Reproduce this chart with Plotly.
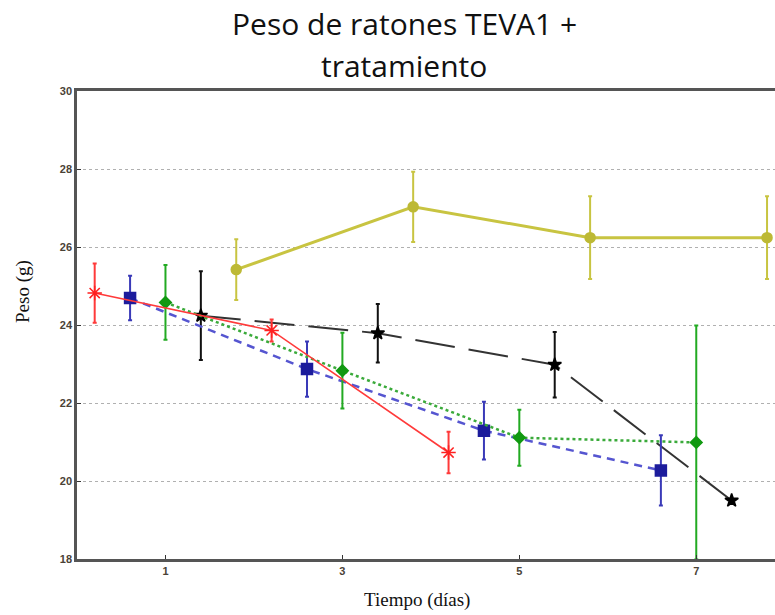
import plotly.graph_objects as go

# ---- data ----
x_red = [0.2, 2.2, 4.2]
y_red = [24.82, 23.86, 20.73]
e_red = [0.76, 0.28, 0.53]

x_blue = [0.6, 2.6, 4.6, 6.6]
y_blue = [24.69, 22.87, 21.29, 20.27]
e_blue = [0.57, 0.71, 0.74, 0.90]

x_green = [1.0, 3.0, 5.0, 7.0]
y_green = [24.58, 22.83, 21.11, 20.99]
e_green = [0.96, 0.97, 0.72, 3.0]

x_black = [1.4, 3.4, 5.4, 7.4]
y_black = [24.24, 23.79, 22.98, 19.50]
e_black = [1.14, 0.75, 0.84, 0.0]

x_yellow = [1.8, 3.8, 5.8, 7.8]
y_yellow = [25.42, 27.03, 26.24, 26.24]
e_yellow = [0.78, 0.90, 1.06, 1.06]

x_ticks = [1, 3, 5, 7]
y_ticks = [18, 20, 22, 24, 26, 28, 30]

title_lines = ["Peso de ratones TEVA1 +", "tratamiento"]
x_title = "Tiempo (días)"
y_title = "Peso (g)"

fig = go.Figure()


def add(x, y, e, color, ecolor, dash, width, symbol, size, mcolor):
    fig.add_trace(go.Scatter(
        x=x, y=y, mode="lines+markers",
        line=dict(color=color, dash=dash, width=width),
        marker=dict(symbol=symbol, size=size, color=mcolor,
                    line=dict(color=mcolor, width=1.5)),
        error_y=dict(type="data", array=e, visible=True, color=ecolor,
                     thickness=2, width=2),
        showlegend=False,
    ))


add(x_yellow, y_yellow, e_yellow, "#c8c441", "#c8c441", "solid", 3, "circle", 10, "#bdb935")
add(x_black, y_black, e_black, "#333333", "#111111", "40px,14px", 2, "star", 10, "#000000")
add(x_blue, y_blue, e_blue, "#5555d0", "#3a3ab8", "8px,6px", 2.5, "square", 11, "#1c1c9c")
add(x_green, y_green, e_green, "#3aaa3a", "#22aa22", "dot", 2.5, "diamond", 9, "#119911")
add(x_red, y_red, e_red, "#ff3a3a", "#ff3a3a", "solid", 1.6, "asterisk-open", 12, "#ff2020")

tickfont = dict(family="Liberation Sans", size=11, color="#4a4236")

fig.update_layout(
    width=775, height=615,
    margin=dict(l=77, r=0, t=91, b=56),
    paper_bgcolor="white", plot_bgcolor="white",
    xaxis=dict(range=[0, 7.89], tickvals=x_ticks, ticktext=[f"<b>{v}</b>" for v in x_ticks],
               showgrid=False,
               showline=True, linecolor="#555555", linewidth=2.5, mirror=True,
               ticks="inside", ticklen=4, tickcolor="#333333",
               tickfont=tickfont, zeroline=False),
    yaxis=dict(range=[18, 30], tickvals=y_ticks, ticktext=[f"<b>{v}</b>" for v in y_ticks],
               showgrid=True,
               gridcolor="#b0b0b0", griddash="dot", gridwidth=1,
               showline=True, linecolor="#555555", linewidth=2.5, mirror=False,
               ticks="inside", ticklen=4, tickcolor="#333333",
               tickfont=tickfont, zeroline=False),
    annotations=[
        dict(text=title_lines[0], xref="paper", yref="paper", x=0.4685, y=(559 - 23) / 468,
             xanchor="center", yanchor="middle", showarrow=False,
             font=dict(family="Open Sans", size=30, color="#111111")),
        dict(text=title_lines[1], xref="paper", yref="paper", x=0.4685, y=(559 - 66) / 468,
             xanchor="center", yanchor="middle", showarrow=False,
             font=dict(family="Open Sans", size=30, color="#111111")),
        dict(text=x_title, xref="paper", yref="paper", x=(417 - 77) / 698, y=(559 - 600) / 468,
             xanchor="center", yanchor="middle", showarrow=False,
             font=dict(family="Liberation Serif", size=19, color="#111111")),
        dict(text=y_title, xref="paper", yref="paper", x=(23 - 77) / 698, y=(559 - 292) / 468,
             xanchor="center", yanchor="middle", showarrow=False, textangle=-90,
             font=dict(family="Liberation Serif", size=19, color="#111111")),
    ],
)

fig.write_html("out.html")
